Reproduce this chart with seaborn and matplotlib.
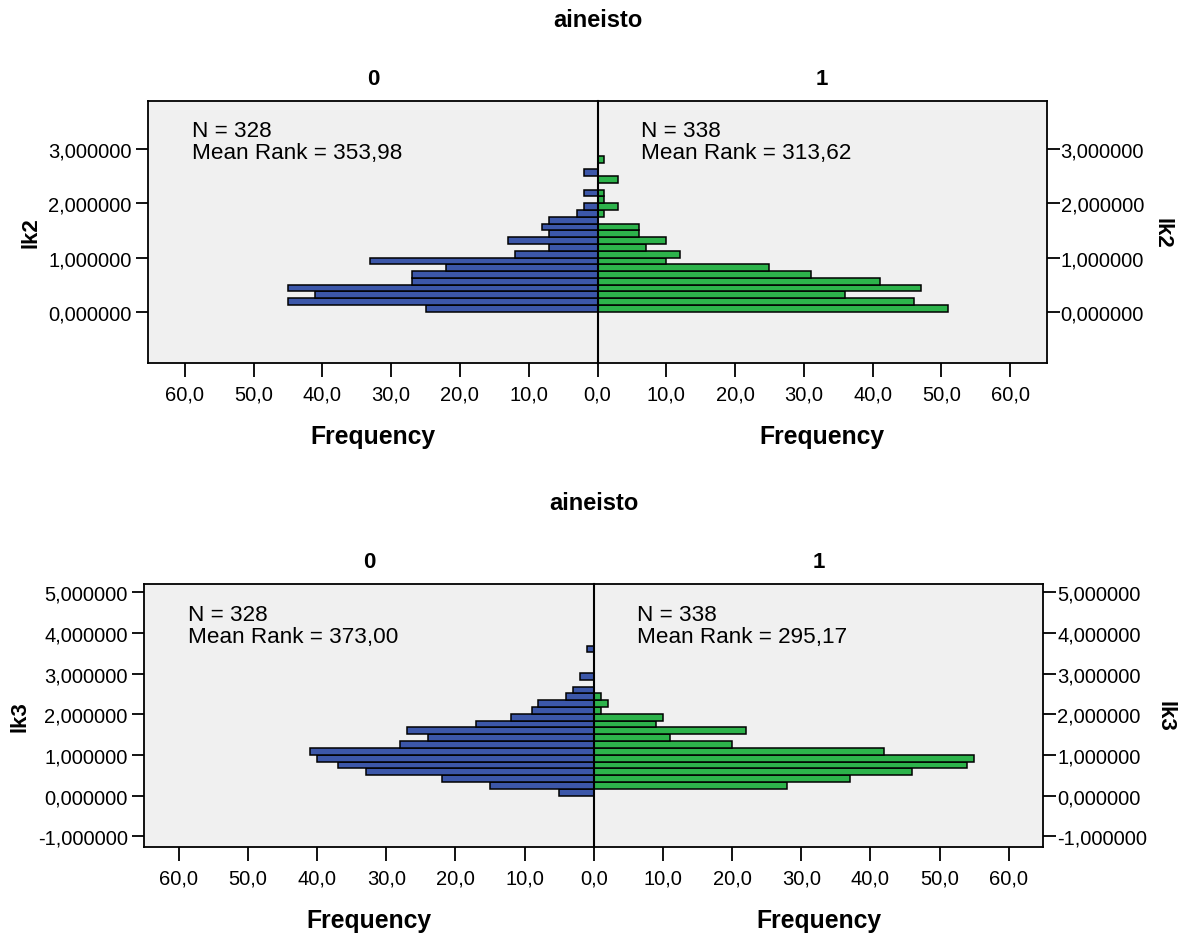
import numpy as np
import pandas as pd
import matplotlib
matplotlib.use("Agg")
import matplotlib.pyplot as plt
import seaborn as sns

# ---------------- data ----------------
GROUPS = ["0", "1"]
GROUP_VAR = "aineisto"

# lk2: histogram counts per bin (bins of width 0.125 starting at 0)
LK2_BIN_WIDTH = 0.125
LK2_COUNTS_0 = [25, 45, 41, 45, 27, 27, 22, 33, 12, 7, 13, 7, 8, 7, 3, 2, 0, 2, 0, 0, 2, 0, 0]
LK2_COUNTS_1 = [51, 46, 36, 47, 41, 31, 25, 10, 12, 7, 10, 6, 6, 0, 1, 3, 1, 1, 0, 3, 0, 0, 1]
LK2_N = [328, 338]
LK2_MEAN_RANK = ["353,98", "313,62"]

# lk3: histogram counts per bin (bins of width ~0.1675 starting at 0)
LK3_BIN_WIDTH = 0.1675
LK3_COUNTS_0 = [5, 15, 22, 33, 37, 40, 41, 28, 24, 27, 17, 12, 9, 8, 4, 3, 0, 2, 0, 0, 0, 1]
LK3_COUNTS_1 = [0, 28, 37, 46, 54, 55, 42, 20, 11, 22, 9, 10, 1, 2, 1]
LK3_N = [328, 338]
LK3_MEAN_RANK = ["373,00", "295,17"]

LK2_YTICKS = [0, 1, 2, 3]
LK3_YTICKS = [-1, 0, 1, 2, 3, 4, 5]
FREQ_TICKS = [0, 10, 20, 30, 40, 50, 60]

# ---------------- style ----------------
BLUE = "#3C57A9"
GREEN = "#2DB34B"
BG = "#F0F0F0"
FONT = ["Liberation Sans", "DejaVu Sans"]

sns.set_theme(style="white")
plt.rcParams["font.family"] = FONT
plt.rcParams["axes.linewidth"] = 1.2
plt.rcParams["text.color"] = "black"
plt.rcParams["axes.labelcolor"] = "black"
plt.rcParams["xtick.color"] = "black"
plt.rcParams["ytick.color"] = "black"

W, H = 1186, 937
fig = plt.figure(figsize=(W / 100, H / 100), dpi=100)


def comma(v, nd):
    return f"{v:.{nd}f}".replace(".", ",")


def hist_df(counts, width):
    edges = [i * width for i in range(len(counts) + 1)]
    centers = [(i + 0.5) * width for i in range(len(counts))]
    return pd.DataFrame({"value": centers, "count": counts}), edges


def panel(box, counts0, counts1, width, ylim, yticks, ylabel, ns, ranks, xmax):
    left, bottom, right, top = box
    mid = (left + right) / 2
    axL = fig.add_axes([left, bottom, mid - left, top - bottom])
    axR = fig.add_axes([mid, bottom, right - mid, top - bottom], sharey=axL)
    for ax, counts, color, n, rank, lab in [
        (axL, counts0, BLUE, ns[0], ranks[0], GROUPS[0]),
        (axR, counts1, GREEN, ns[1], ranks[1], GROUPS[1]),
    ]:
        df, edges = hist_df(counts, width)
        df = df[df["count"] > 0]
        sns.histplot(data=df, y="value", weights="count", bins=edges, ax=ax,
                     color=color, edgecolor="black", linewidth=1.1, alpha=1,
                     legend=False)
        ax.set_facecolor(BG)
        ax.set_title(lab, fontsize=16, fontweight="bold", pad=12, color="black")
        ax.set_xlabel("Frequency", fontsize=17.8, fontweight="bold", labelpad=15)
        ax.text(0.097, 0.885, f"N = {n}", transform=ax.transAxes,
                fontsize=16.2, va="center", ha="left", color="black")
        ax.text(0.097, 0.802, f"Mean Rank = {rank}", transform=ax.transAxes,
                fontsize=16.2, va="center", ha="left", color="black")
        for s in ax.spines.values():
            s.set_color("black")
            s.set_linewidth(1.3)
        ax.tick_params(axis="x", direction="out", length=10, width=1.3,
                       labelsize=14.5, pad=5, colors="black",
                       bottom=True, top=False)
        ax.tick_params(axis="y", direction="out", length=9, width=1.3,
                       labelsize=14.5, colors="black")
    axL.set_xlim(xmax, 0)
    axR.set_xlim(0, xmax)
    axL.set_xticks(FREQ_TICKS)
    axL.set_xticklabels([comma(t, 1) for t in FREQ_TICKS])
    axR.set_xticks(FREQ_TICKS[1:])
    axR.set_xticklabels([comma(t, 1) for t in FREQ_TICKS[1:]])
    axL.set_ylim(*ylim)
    axL.set_yticks(yticks)
    axL.set_yticklabels([comma(t, 6) for t in yticks])
    axL.tick_params(axis="y", left=True, right=False, labelleft=True, labelright=False, pad=3)
    axR.tick_params(axis="y", left=False, right=True, labelleft=False, labelright=True, pad=1)
    axR.spines["left"].set_linewidth(1.5)
    axL.set_ylabel(ylabel, fontsize=16, fontweight="bold", labelpad=5)
    axR.yaxis.set_label_position("right")
    axR.set_ylabel(ylabel, fontsize=16, fontweight="bold", rotation=270,
                   va="bottom", labelpad=5)
    # group variable title
    fig.text(mid, top + 0.087, GROUP_VAR, ha="center", va="center",
             fontsize=17, fontweight="bold", color="black")
    return axL, axR


panel((148.3 / W, 1 - 364.3 / H, 1046.7 / W, 1 - 101.7 / H),
      LK2_COUNTS_0, LK2_COUNTS_1, LK2_BIN_WIDTH, (-0.95, 3.89), LK2_YTICKS,
      "lk2", LK2_N, LK2_MEAN_RANK, 65.3)
panel((144.3 / W, 1 - 848.3 / H, 1043.3 / W, 1 - 585 / H),
      LK3_COUNTS_0, LK3_COUNTS_1, LK3_BIN_WIDTH, (-1.27, 5.2), LK3_YTICKS,
      "lk3", LK3_N, LK3_MEAN_RANK, 65.0)

fig.savefig("out.png", dpi=100, facecolor="white")
